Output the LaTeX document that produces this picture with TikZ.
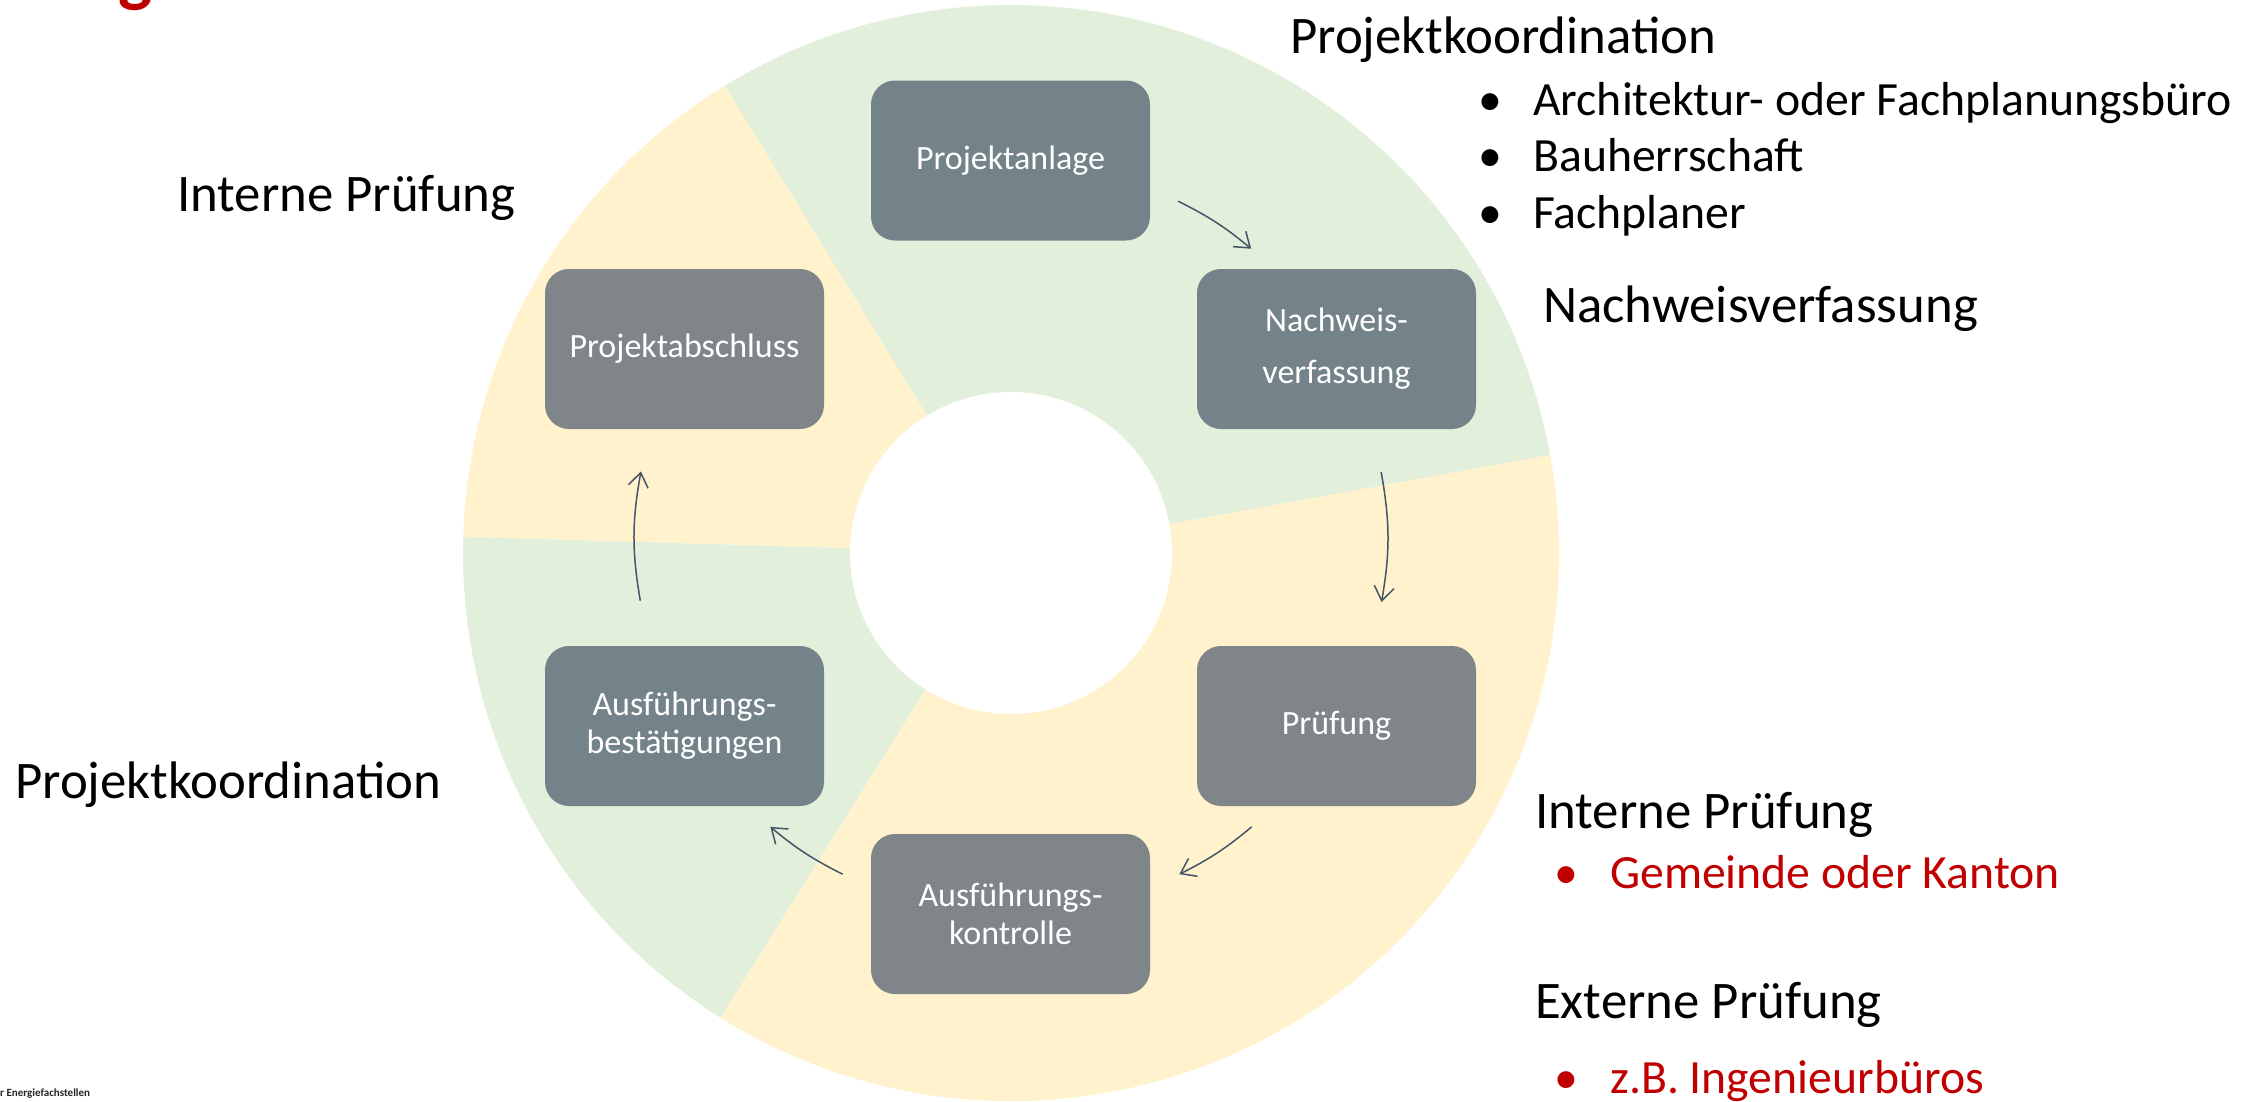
\documentclass[tikz,border=0pt]{standalone}
\usepackage{fontspec}
\setmainfont{Carlito}
\usetikzlibrary{arrows.meta}
\definecolor{ringgreen}{HTML}{E2EFDA}
\definecolor{ringyellow}{HTML}{FFF2CC}
\definecolor{boxblue}{HTML}{748389}
\definecolor{boxgray}{HTML}{7F8589}
\definecolor{arrowcol}{HTML}{44546A}
\definecolor{titlered}{HTML}{C00000}
\begin{document}
\begin{tikzpicture}[x=1pt,y=1pt,
  stage/.style={rounded corners=24pt, minimum width=279pt, minimum height=160pt,
    text=white, font=\fontsize{34}{38}\selectfont, align=center, inner sep=0pt},
  flow/.style={draw=arrowcol, line width=1.5pt,
    -{Straight Barb[length=14pt,width=20pt,line width=1.5pt]}},
  heading/.style={anchor=base west, font=\fontsize{52.8}{60}\selectfont, inner sep=0pt},
  item/.style={anchor=base west, font=\fontsize{47.7}{55}\selectfont, inner sep=0pt}]
\useasboundingbox (0,0) rectangle (2266,-1101);
\fill[white] (0,0) rectangle (2266,-1101);
\begin{scope}
\clip (0,0) rectangle (2266,-1101);
% ring sectors
\coordinate (C) at (1011,-553);
\fill[ringgreen] (C) -- ++(10.3:548) arc[start angle=10.3, end angle=121.5, radius=548] -- cycle;
\fill[ringyellow] (C) -- ++(121.5:548) arc[start angle=121.5, end angle=178.3, radius=548] -- cycle;
\fill[ringgreen] (C) -- ++(178.3:548) arc[start angle=178.3, end angle=238, radius=548] -- cycle;
\fill[ringyellow] (C) -- ++(238:548) arc[start angle=238, end angle=370.3, radius=548] -- cycle;
\fill[white] (C) circle[radius=161];
% cut-off title and footer
\node[anchor=base west, font=\bfseries\fontsize{72}{80}\selectfont, text=titlered, inner sep=0pt] (ttl) at (118,2) {g};
\end{scope}
\node[anchor=base west, font=\bfseries\fontsize{11}{13}\selectfont, text=black!85, inner sep=0pt] (foot) at (0,-1096) {r Energiefachstellen};
% stages
\node[stage, fill=boxblue] (anlage) at (1010.5,-160.5) {Projektanlage};
\node[stage, fill=boxblue] (nachweis) at (1336.5,-349) {Nachweis-\\[14pt]verfassung};
\node[stage, fill=boxgray] (pruefung) at (1336.5,-726) {Prüfung};
\node[stage, fill=boxgray] (kontrolle) at (1010.5,-914) {Ausführungs-\\kontrolle};
\node[stage, fill=boxblue] (bestaet) at (684.5,-726) {Ausführungs-\\bestätigungen};
\node[stage, fill=boxgray] (abschluss) at (684.5,-349) {Projektabschluss};
% arrow arcs
\coordinate (A) at (1011,-538);
\path (A) ++(63.6:376) coordinate (a1s);
\path (A) ++(50.3:376) coordinate (a1e);
\path (A) ++(10.1:376) coordinate (a2s);
\path (A) ++(-9.8:376) coordinate (a2e);
\path (A) ++(-50.2:376) coordinate (a3s);
\path (A) ++(-63.4:376) coordinate (a3e);
\path (A) ++(-116.6:376) coordinate (a4s);
\path (A) ++(-129.8:376) coordinate (a4e);
\path (A) ++(189.6:376) coordinate (a5s);
\path (A) ++(169.8:376) coordinate (a5e);
\draw[flow] (a1s) to[bend left=6.6] (a1e);
\draw[flow] (a2s) to[bend left=10] (a2e);
\draw[flow] (a3s) to[bend left=6.6] (a3e);
\draw[flow] (a4s) to[bend left=6.6] (a4e);
\draw[flow] (a5s) to[bend left=10] (a5e);
% labels right
\node[heading] (pk1) at (1290,-53) {Projektkoordination};
\node[item] (bu1) at (1478,-115) {•};
\node[item] (it1) at (1533,-115) {Architektur- oder Fachplanungsbüro};
\node[item] (bu2) at (1478,-171) {•};
\node[item] (it2) at (1533,-171) {Bauherrschaft};
\node[item] (bu3) at (1478,-228) {•};
\node[item] (it3) at (1533,-228) {Fachplaner};
\node[heading] (nv) at (1543,-322) {Nachweisverfassung};
\node[heading] (ip2) at (1535,-828) {Interne Prüfung};
\node[item, text=titlered] (bu4) at (1554,-888) {•};
\node[item, text=titlered] (it4) at (1610,-888) {Gemeinde oder Kanton};
\node[heading] (ep) at (1535,-1018) {Externe Prüfung};
\node[item, text=titlered] (bu5) at (1554,-1093) {•};
\node[item, text=titlered] (it5) at (1610,-1093) {z.B. Ingenieurbüros};
% labels left
\node[heading] (ip1) at (177,-211) {Interne Prüfung};
\node[heading] (pk2) at (15,-798) {Projektkoordination};
\end{tikzpicture}
\end{document}
